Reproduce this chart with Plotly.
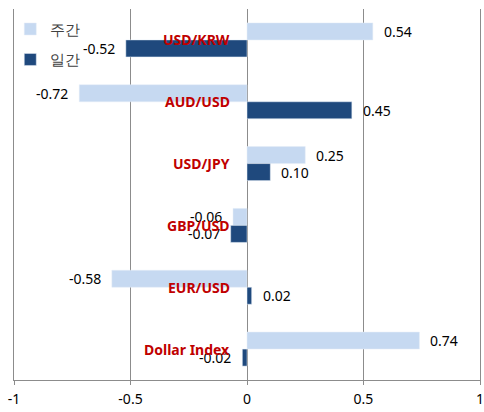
import plotly.graph_objects as go

categories = ["USD/KRW", "AUD/USD", "USD/JPY", "GBP/USD", "EUR/USD", "Dollar Index"]
weekly = [0.54, -0.72, 0.25, -0.06, -0.58, 0.74]   # 주간
daily = [-0.52, 0.45, 0.10, -0.07, 0.02, -0.02]    # 일간
series_names = ["주간", "일간"]
x_ticks = [-1, -0.5, 0, 0.5, 1]
x_tick_labels = ["-1", "-0.5", "0", "0.5", "1"]

light = "#C6D9F1"
dark = "#1F497D"
grid = "#8C8C8C"
font_family = "Noto Sans, Liberation Sans, sans-serif"

fig = go.Figure()
fig.add_trace(go.Bar(y=categories, x=weekly, orientation="h", name=series_names[0],
                     marker=dict(color=light), legendgroup="a"))
fig.add_trace(go.Bar(y=categories, x=daily, orientation="h", name=series_names[1],
                     marker=dict(color=dark), legendgroup="b"))

ann = []
for vals, shift in ((weekly, 8.5), (daily, -8.5)):
    for c, v in zip(categories, vals):
        ann.append(dict(x=v, y=c, xref="x", yref="y", text=f"{v:.2f}", showarrow=False,
                        xanchor="left" if v >= 0 else "right",
                        xshift=9 if v >= 0 else -9, yshift=shift,
                        font=dict(size=14, color="#000000", family=font_family)))
for c in categories:
    ann.append(dict(x=0, y=c, xref="x", yref="y", text=f"<b>{c}</b>", showarrow=False,
                    xanchor="right", xshift=-15, yshift=0,
                    font=dict(size=14, color="#C00000", family=font_family)))

fig.update_layout(
    width=484, height=412,
    margin=dict(l=14, r=4, t=9, b=32, autoexpand=False),
    paper_bgcolor="white", plot_bgcolor="white",
    barmode="group", bargap=0.45, bargroupgap=0,
    font=dict(family=font_family, size=13, color="#000000"),
    showlegend=True,
    legend=dict(x=-0.008, y=0.99, xanchor="left", yanchor="top",
                font=dict(size=15, color="#404040", family=font_family),
                bgcolor="rgba(255,255,255,0)", tracegroupgap=8,
                itemwidth=30),
    annotations=ann,
    xaxis=dict(range=[-1, 1], tickvals=x_ticks, ticktext=x_tick_labels,
               showgrid=True, gridcolor=grid, gridwidth=1,
               zeroline=False, showline=True, linecolor=grid,
               ticks="outside", ticklen=4, tickcolor=grid,
               ticklabelstandoff=2, automargin=False,
               ticklabeloverflow="allow",
               tickfont=dict(size=14, color="#000000")),
    yaxis=dict(autorange="reversed", showticklabels=False, showgrid=False,
               zeroline=False, showline=True, mirror=True, linecolor=grid,
               ticks=""),
)

fig.write_html("out.html", post_script="document.body.style.margin='0';",
               config={"displayModeBar": False})
